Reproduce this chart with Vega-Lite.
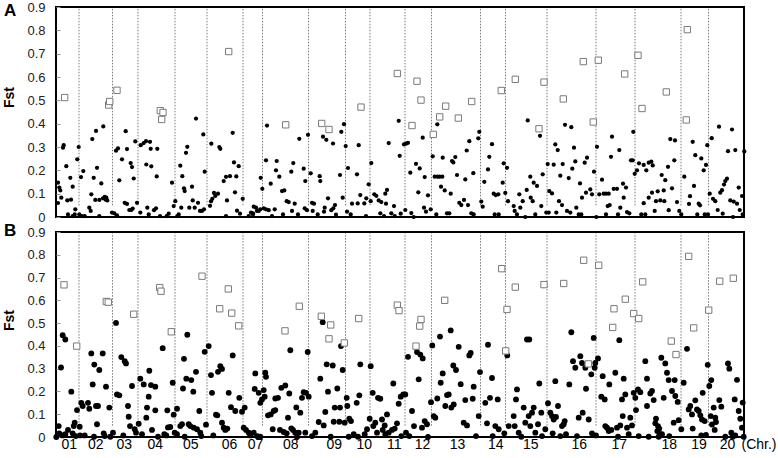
{
"$schema":"https://vega.github.io/schema/vega-lite/v6.json",
"background":"white",
"padding":{"left":1,"top":0,"right":0,"bottom":0},
"bounds":"flush",
"spacing":15,
"config":{"font":"Liberation Sans","view":{"stroke":"black","strokeWidth":2},"axis":{"grid":false}},
"datasets":{
"bounds":[{"x":77},{"x":110.5},{"x":136},{"x":173},{"x":205},{"x":241},{"x":260.5},{"x":306.5},{"x":343.5},{"x":368},{"x":403},{"x":429.5},{"x":478.5},{"x":503.5},{"x":545},{"x":594},{"x":633},{"x":679},{"x":706.5}],
"A_snp":[{"x":56,"y":0.147},{"x":57.3,"y":0.126},{"x":58.3,"y":0.114},{"x":56,"y":0.06},{"x":59.3,"y":0.083},{"x":61.7,"y":0.308},{"x":61,"y":0.297},{"x":64.3,"y":0.218},{"x":66,"y":0.011},{"x":70.7,"y":0.004},{"x":68.3,"y":0.168},{"x":65.3,"y":0.071},{"x":69,"y":0.074},{"x":70.7,"y":0.13},{"x":73.3,"y":0.033},{"x":72.7,"y":0.011},{"x":75.3,"y":0.247},{"x":76.7,"y":0.3},{"x":79,"y":0.171},{"x":81.3,"y":0.197},{"x":77.3,"y":0.011},{"x":80,"y":0.004},{"x":82.7,"y":0.004},{"x":87.3,"y":0.04},{"x":88.7,"y":0.026},{"x":89.3,"y":0.097},{"x":90.3,"y":0.334},{"x":91.7,"y":0.168},{"x":94,"y":0.369},{"x":95,"y":0.211},{"x":93.3,"y":0.073},{"x":97.3,"y":0.073},{"x":99.3,"y":0.144},{"x":101.3,"y":0.388},{"x":101,"y":0.08},{"x":102.7,"y":0.086},{"x":103.7,"y":0.074},{"x":105.3,"y":0.071},{"x":104.3,"y":0.083},{"x":97.3,"y":0.004},{"x":110,"y":0.019},{"x":112.3,"y":0.016},{"x":115,"y":0.007},{"x":114,"y":0.284},{"x":116,"y":0.294},{"x":117.3,"y":0.157},{"x":120,"y":0.247},{"x":123.7,"y":0.368},{"x":125,"y":0.291},{"x":128.7,"y":0.231},{"x":130,"y":0.214},{"x":131.7,"y":0.165},{"x":133.3,"y":0.324},{"x":122.7,"y":0.061},{"x":125,"y":0.056},{"x":127.3,"y":0.03},{"x":129.3,"y":0.03},{"x":130.7,"y":0.036},{"x":135,"y":0.061},{"x":138.7,"y":0.308},{"x":141.7,"y":0.317},{"x":144,"y":0.325},{"x":148,"y":0.322},{"x":148.7,"y":0.292},{"x":144.3,"y":0.225},{"x":149.3,"y":0.217},{"x":155.3,"y":0.292},{"x":154.7,"y":0.174},{"x":145.3,"y":0.04},{"x":152,"y":0.029},{"x":154,"y":0.037},{"x":138.3,"y":0.019},{"x":146.7,"y":0.011},{"x":158,"y":0.004},{"x":164.7,"y":0.004},{"x":166.7,"y":0.014},{"x":170,"y":0.147},{"x":171.7,"y":0.047},{"x":173.3,"y":0.068},{"x":175.3,"y":0.004},{"x":176.7,"y":0.011},{"x":178.3,"y":0.22},{"x":179.3,"y":0.04},{"x":180.3,"y":0.175},{"x":182,"y":0.123},{"x":182.7,"y":0.111},{"x":184,"y":0.275},{"x":185.3,"y":0.301},{"x":187.3,"y":0.04},{"x":190,"y":0.13},{"x":190.7,"y":0.071},{"x":192.7,"y":0.04},{"x":194,"y":0.422},{"x":196,"y":0.061},{"x":198,"y":0.026},{"x":200,"y":0.026},{"x":202,"y":0.033},{"x":201.3,"y":0.354},{"x":202.7,"y":0.194},{"x":208,"y":0.048},{"x":209,"y":0.067},{"x":210.3,"y":0.078},{"x":212,"y":0.103},{"x":213.3,"y":0.09},{"x":209.3,"y":0.314},{"x":217.3,"y":0.3},{"x":218.3,"y":0.292},{"x":216,"y":0.1},{"x":221.7,"y":0.154},{"x":224,"y":0.172},{"x":225,"y":0.071},{"x":224,"y":0.004},{"x":228,"y":0.175},{"x":230.7,"y":0.361},{"x":232,"y":0.234},{"x":233,"y":0.106},{"x":234.3,"y":0.174},{"x":235,"y":0.027},{"x":236.7,"y":0.218},{"x":238,"y":0.014},{"x":240.7,"y":0.078},{"x":246.7,"y":0.004},{"x":249,"y":0.019},{"x":251,"y":0.016},{"x":255,"y":0.026},{"x":258.3,"y":0.033},{"x":258.7,"y":0.168},
{"x":251.7,"y":0.044},{"x":254,"y":0.04},{"x":256.7,"y":0.026},{"x":251,"y":0.011},{"x":260.3,"y":0.121},{"x":261.7,"y":0.037},{"x":264,"y":0.033},{"x":266.7,"y":0.029},{"x":265,"y":0.392},{"x":264,"y":0.243},{"x":268.7,"y":0.143},{"x":270,"y":0.004},{"x":272.7,"y":0.033},{"x":274,"y":0.2},{"x":274.7,"y":0.24},{"x":277.3,"y":0.173},{"x":280,"y":0.111},{"x":282.3,"y":0.114},{"x":281,"y":0.011},{"x":284.7,"y":0.068},{"x":286.7,"y":0.064},{"x":289.3,"y":0.194},{"x":291.3,"y":0.231},{"x":290,"y":0.026},{"x":292.7,"y":0.057},{"x":296,"y":0.011},{"x":297.3,"y":0.335},{"x":301.7,"y":0.207},{"x":303.3,"y":0.154},{"x":302.7,"y":0.037},{"x":305,"y":0.029},{"x":306,"y":0.352},{"x":308.7,"y":0.187},{"x":310,"y":0.061},{"x":312,"y":0.057},{"x":310.7,"y":0.026},{"x":315.7,"y":0.011},{"x":317.7,"y":0.175},{"x":318.3,"y":0.154},{"x":321,"y":0.344},{"x":322.7,"y":0.04},{"x":322,"y":0.023},{"x":324.3,"y":0.331},{"x":326,"y":0.08},{"x":329.3,"y":0.029},{"x":331.3,"y":0.037},{"x":331,"y":0.315},{"x":333,"y":0.051},{"x":334,"y":0.01},{"x":338,"y":0.18},{"x":339.3,"y":0.365},{"x":340.7,"y":0.083},{"x":342,"y":0.398},{"x":343.7,"y":0.304},{"x":345,"y":0.023},{"x":346,"y":0.21},{"x":348.7,"y":0.011},{"x":350,"y":0.057},{"x":355,"y":0.183},{"x":355.7,"y":0.058},{"x":356.7,"y":0.308},{"x":358.3,"y":0.094},{"x":362.3,"y":0.058},{"x":364.3,"y":0.08},{"x":364,"y":0.004},{"x":366.7,"y":0.14},{"x":368.7,"y":0.068},{"x":369.3,"y":0.231},{"x":372.3,"y":0.097},{"x":374.3,"y":0.091},{"x":376.7,"y":0.071},{"x":379.3,"y":0.064},{"x":378.3,"y":0.016},{"x":382,"y":0.004},{"x":383.3,"y":0.1},{"x":385,"y":0.116},{"x":384,"y":0.057},{"x":386.7,"y":0.317},{"x":389.3,"y":0.016},{"x":392.7,"y":0.004},{"x":392,"y":0.047},{"x":396.7,"y":0.412},{"x":397.7,"y":0.262},{"x":398.7,"y":0.014},{"x":402,"y":0.311},{"x":404,"y":0.314},{"x":406,"y":0.318},{"x":403.3,"y":0.03},{"x":408.3,"y":0.19},{"x":409.3,"y":0.017},{"x":411.7,"y":0.0},{"x":414,"y":0.228},{"x":416.3,"y":0.106},{"x":417.7,"y":0.208},{"x":420.7,"y":0.34},{"x":422,"y":0.04},{"x":422.7,"y":0.171},{"x":424,"y":0.023},{"x":426,"y":0.093},{"x":428.7,"y":0.033},{"x":430.7,"y":0.26},{"x":432.7,"y":0.173},{"x":434.3,"y":0.011},{"x":435.3,"y":0.397},{"x":435.7,"y":0.173},{"x":437.7,"y":0.173},{"x":439,"y":0.13},{"x":440.7,"y":0.254},{"x":440.3,"y":0.173},{"x":442.7,"y":0.114},{"x":445,"y":0.016},{"x":447.3,"y":0.016},{"x":448.7,"y":0.1},{"x":450,"y":0.24},{"x":451.3,"y":0.234},{"x":453.3,"y":0.257},{"x":455,"y":0.18},{"x":457.3,"y":0.061},{"x":459.3,"y":0.051},{"x":462,"y":0.073},{"x":463.3,"y":0.161},{"x":464.7,"y":0.285},{"x":466,"y":0.051},{"x":467.3,"y":0.325},{"x":469.3,"y":0.016},{"x":471.7,"y":0.011},{"x":471.3,"y":0.188},{"x":476.3,"y":0.337},{"x":477.3,"y":0.365},{"x":479.3,"y":0.066},{"x":480.7,"y":0.044},{"x":482.3,"y":0.151},{"x":486,"y":0.204},{"x":487.3,"y":0.258},{"x":490,"y":0.312},{"x":491.7,"y":0.1},{"x":493.7,"y":0.094},{"x":496.3,"y":0.097},{"x":492.7,"y":0.011},{"x":496.7,"y":0.011},{"x":501.7,"y":0.23},{"x":500.7,"y":0.147},{"x":503.3,"y":0.103},{"x":505,"y":0.211},{"x":506,"y":0.068},
{"x":511.7,"y":0.047},{"x":512.7,"y":0.026},{"x":515,"y":0.011},{"x":518.3,"y":0.04},{"x":517.3,"y":0.097},{"x":520.7,"y":0.068},{"x":523.3,"y":0.0},{"x":524.7,"y":0.116},{"x":525.7,"y":0.414},{"x":528.3,"y":0.173},{"x":528.7,"y":0.083},{"x":530.7,"y":0.068},{"x":531.7,"y":0.147},{"x":535,"y":0.133},{"x":533.3,"y":0.011},{"x":538,"y":0.348},{"x":539.3,"y":0.047},{"x":540.7,"y":0.183},{"x":544.3,"y":0.019},{"x":546.7,"y":0.019},{"x":545.7,"y":0.227},{"x":547.3,"y":0.111},{"x":550,"y":0.101},{"x":551.7,"y":0.224},{"x":553.3,"y":0.311},{"x":555.7,"y":0.287},{"x":554.3,"y":0.019},{"x":557,"y":0.068},{"x":558.3,"y":0.177},{"x":560,"y":0.051},{"x":560.7,"y":0.227},{"x":563,"y":0.395},{"x":565,"y":0.026},{"x":568.3,"y":0.019},{"x":566.7,"y":0.167},{"x":569.3,"y":0.385},{"x":570.3,"y":0.207},{"x":572,"y":0.297},{"x":573.3,"y":0.238},{"x":574.3,"y":0.04},{"x":576.7,"y":0.011},{"x":579.3,"y":0.011},{"x":578,"y":0.144},{"x":580,"y":0.083},{"x":582.7,"y":0.233},{"x":585,"y":0.254},{"x":584,"y":0.104},{"x":588.3,"y":0.118},{"x":590,"y":0.097},{"x":592,"y":0.194},{"x":595,"y":0.301},{"x":594.3,"y":0.0},{"x":597.3,"y":0.097},{"x":600,"y":0.16},{"x":601.7,"y":0.1},{"x":604,"y":0.1},{"x":606.7,"y":0.1},{"x":604,"y":0.011},{"x":605.7,"y":0.047},{"x":607.7,"y":0.051},{"x":609,"y":0.258},{"x":610,"y":0.344},{"x":611.7,"y":0.121},{"x":615,"y":0.121},{"x":616,"y":0.011},{"x":617.3,"y":0.287},{"x":618.3,"y":0.04},{"x":621,"y":0.143},{"x":621.7,"y":0.083},{"x":624,"y":0.126},{"x":625,"y":0.021},{"x":627.3,"y":0.016},{"x":629,"y":0.243},{"x":630.7,"y":0.243},{"x":631.3,"y":0.365},{"x":632.7,"y":0.185},{"x":635,"y":0.2},{"x":637,"y":0.23},{"x":639.3,"y":0.011},{"x":641.7,"y":0.223},{"x":641.7,"y":0.059},{"x":643.3,"y":0.011},{"x":644.3,"y":0.2},{"x":646.7,"y":0.233},{"x":649.3,"y":0.237},{"x":650.7,"y":0.221},{"x":646.7,"y":0.083},{"x":650,"y":0.104},{"x":652.7,"y":0.026},{"x":654,"y":0.068},{"x":655.7,"y":0.11},{"x":658.3,"y":0.071},{"x":659.7,"y":0.18},{"x":661.7,"y":0.114},{"x":663.3,"y":0.158},{"x":662.3,"y":0.068},{"x":666,"y":0.215},{"x":666.7,"y":0.029},{"x":668.3,"y":0.334},{"x":673,"y":0.328},{"x":672.3,"y":0.243},{"x":670,"y":0.123},{"x":675,"y":0.064},{"x":677.3,"y":0.026},{"x":679.3,"y":0.011},{"x":682.3,"y":0.173},{"x":687,"y":0.056},{"x":688,"y":0.089},{"x":690.7,"y":0.322},{"x":692,"y":0.133},{"x":693.3,"y":0.265},{"x":695.3,"y":0.011},{"x":696.7,"y":0.057},{"x":698,"y":0.05},{"x":699.3,"y":0.251},{"x":701.7,"y":0.2},{"x":702.7,"y":0.011},{"x":704,"y":0.223},{"x":705.3,"y":0.308},{"x":706,"y":0.011},{"x":707.7,"y":0.1},{"x":709.7,"y":0.338},{"x":711,"y":0.078},{"x":713.3,"y":0.068},{"x":715.7,"y":0.03},{"x":717,"y":0.387},{"x":718.3,"y":0.104},{"x":720,"y":0.115},{"x":722,"y":0.139},{"x":723.3,"y":0.154},{"x":725,"y":0.164},{"x":720.7,"y":0.014},{"x":726,"y":0.282},{"x":728.3,"y":0.071},{"x":730,"y":0.375},{"x":731.7,"y":0.066},{"x":735,"y":0.057},{"x":733.3,"y":0.287},{"x":736.7,"y":0.126},{"x":737.7,"y":0.03},{"x":740,"y":0.09},{"x":740.7,"y":0.011},{"x":742.3,"y":0.281},{"x":731,"y":0.0}],
"A_out":[{"x":62.7,"y":0.512},{"x":106.7,"y":0.48},{"x":107.7,"y":0.495},{"x":115,"y":0.543},{"x":158.3,"y":0.456},{"x":161,"y":0.448},{"x":159.7,"y":0.418},{"x":226.7,"y":0.709},{"x":283.7,"y":0.395},{"x":319.7,"y":0.401},{"x":327,"y":0.375},{"x":359,"y":0.471},{"x":395.3,"y":0.615},{"x":415,"y":0.582},{"x":419,"y":0.501},{"x":410,"y":0.392},{"x":431.3,"y":0.354},{"x":437.7,"y":0.429},{"x":443.7,"y":0.475},{"x":456.3,"y":0.424},{"x":469.7,"y":0.495},{"x":499.3,"y":0.542},{"x":513.3,"y":0.59},{"x":542,"y":0.578},{"x":537,"y":0.378},{"x":561.3,"y":0.506},{"x":581.3,"y":0.666},{"x":596.3,"y":0.672},{"x":591.3,"y":0.407},{"x":622.7,"y":0.613},{"x":636,"y":0.693},{"x":640,"y":0.465},{"x":664.3,"y":0.536},{"x":685.3,"y":0.803},{"x":684.3,"y":0.416}],
"B_snp":[{"x":54.3,"y":0.0},{"x":56.7,"y":0.048},{"x":57.3,"y":0.016},{"x":59,"y":0.305},{"x":60.7,"y":0.447},{"x":63.3,"y":0.428},{"x":60.7,"y":0.007},{"x":63.3,"y":0.012},{"x":66,"y":0.031},{"x":69.3,"y":0.199},{"x":70.7,"y":0.016},{"x":71.7,"y":0.048},{"x":72.7,"y":0.063},{"x":73.7,"y":0.004},{"x":75,"y":0.118},{"x":77.7,"y":0.045},{"x":79.3,"y":0.15},{"x":80.7,"y":0.136},{"x":78,"y":0.007},{"x":82.7,"y":0.007},{"x":86,"y":0.15},{"x":87.3,"y":0.124},{"x":89.3,"y":0.367},{"x":90.7,"y":0.231},{"x":92.3,"y":0.318},{"x":94,"y":0.136},{"x":95,"y":0.056},{"x":92,"y":0.001},{"x":97.3,"y":0.294},{"x":96,"y":0.136},{"x":100.7,"y":0.367},{"x":101.7,"y":0.016},{"x":102.7,"y":0.004},{"x":104,"y":0.221},{"x":107.3,"y":0.129},{"x":108.3,"y":0.001},{"x":111,"y":0.019},{"x":114,"y":0.501},{"x":115,"y":0.187},{"x":117.3,"y":0.183},{"x":119.3,"y":0.351},{"x":121.3,"y":0.007},{"x":122.7,"y":0.333},{"x":124,"y":0.323},{"x":126,"y":0.136},{"x":126.7,"y":0.089},{"x":128,"y":0.048},{"x":130,"y":0.224},{"x":132.7,"y":0.034},{"x":134,"y":0.019},{"x":136.7,"y":0.058},{"x":138.3,"y":0.256},{"x":140,"y":0.012},{"x":141.7,"y":0.231},{"x":144.3,"y":0.085},{"x":145,"y":0.129},{"x":146.7,"y":0.177},{"x":147.3,"y":0.291},{"x":149,"y":0.228},{"x":150,"y":0.031},{"x":153.3,"y":0.221},{"x":153.3,"y":0.117},{"x":156,"y":0.001},{"x":160.7,"y":0.39},{"x":162.3,"y":0.012},{"x":164.3,"y":0.007},{"x":165.3,"y":0.117},{"x":166,"y":0.042},{"x":168.3,"y":0.044},{"x":170.7,"y":0.238},{"x":171.7,"y":0.098},{"x":175,"y":0.124},{"x":172.7,"y":0.019},{"x":175,"y":0.012},{"x":178.3,"y":0.048},{"x":180,"y":0.056},{"x":181,"y":0.213},{"x":182,"y":0.343},{"x":182.7,"y":0.001},{"x":184.3,"y":0.256},{"x":185.3,"y":0.449},{"x":186.7,"y":0.056},{"x":188.3,"y":0.048},{"x":189.3,"y":0.25},{"x":191.3,"y":0.199},{"x":191.7,"y":0.041},{"x":194,"y":0.286},{"x":195,"y":0.034},{"x":197.3,"y":0.114},{"x":198.3,"y":0.019},{"x":199.3,"y":0.004},{"x":202.7,"y":0.374},{"x":204,"y":0.054},{"x":206.7,"y":0.399},{"x":209,"y":0.272},{"x":210,"y":0.194},{"x":211.3,"y":0.007},{"x":214,"y":0.098},{"x":215.3,"y":0.095},{"x":216,"y":0.286},{"x":218.3,"y":0.311},{"x":220,"y":0.299},{"x":220,"y":0.063},{"x":221.7,"y":0.041},{"x":223.3,"y":0.031},{"x":225.3,"y":0.037},{"x":226.7,"y":0.194},{"x":229,"y":0.131},{"x":230.7,"y":0.358},{"x":233.3,"y":0.114},{"x":237.3,"y":0.172},{"x":240,"y":0.111},{"x":242.7,"y":0.129},{"x":241.7,"y":0.041},{"x":244,"y":0.031},{"x":246.7,"y":0.019},{"x":248.3,"y":0.007},{"x":253.3,"y":0.279},{"x":252.7,"y":0.211},{"x":256.7,"y":0.194},{"x":258.3,"y":0.15},{"x":256.7,"y":0.001},
{"x":251.7,"y":0.019},{"x":255,"y":0.004},{"x":258.3,"y":0.001},{"x":263.3,"y":0.282},{"x":264,"y":0.264},{"x":261.7,"y":0.206},{"x":260,"y":0.165},{"x":262.7,"y":0.177},{"x":266,"y":0.095},{"x":268.7,"y":0.099},{"x":271.7,"y":0.114},{"x":273.3,"y":0.118},{"x":270.7,"y":0.034},{"x":273.3,"y":0.169},{"x":276,"y":0.172},{"x":278,"y":0.031},{"x":279.3,"y":0.216},{"x":281.7,"y":0.022},{"x":283.3,"y":0.226},{"x":284.7,"y":0.016},{"x":286,"y":0.085},{"x":287.3,"y":0.191},{"x":288.3,"y":0.381},{"x":289.3,"y":0.038},{"x":291,"y":0.031},{"x":293.3,"y":0.019},{"x":296.7,"y":0.019},{"x":295,"y":0.0},{"x":294.3,"y":0.13},{"x":298.3,"y":0.107},{"x":300,"y":0.172},{"x":301.7,"y":0.197},{"x":304,"y":0.194},{"x":305.7,"y":0.373},{"x":306.7,"y":0.177},{"x":303.3,"y":0.019},{"x":310,"y":0.004},{"x":313.3,"y":0.019},{"x":316.7,"y":0.066},{"x":318.3,"y":0.256},{"x":320.7,"y":0.504},{"x":321.7,"y":0.051},{"x":323.3,"y":0.11},{"x":324.7,"y":0.319},{"x":326,"y":0.199},{"x":328.7,"y":0.001},{"x":330.7,"y":0.314},{"x":331.7,"y":0.067},{"x":332.7,"y":0.129},{"x":335.3,"y":0.213},{"x":338,"y":0.129},{"x":337.3,"y":0.067},{"x":339,"y":0.399},{"x":340.7,"y":0.294},{"x":342.7,"y":0.063},{"x":344.7,"y":0.172},{"x":345.3,"y":0.136},{"x":347.3,"y":0.08},{"x":349,"y":0.07},{"x":346.7,"y":0.001},{"x":351.7,"y":0.012},{"x":354.7,"y":0.15},{"x":357.3,"y":0.183},{"x":358.3,"y":0.319},{"x":356,"y":0.001},{"x":362.7,"y":0.012},{"x":365,"y":0.034},{"x":367.7,"y":0.08},{"x":368.7,"y":0.311},{"x":370.7,"y":0.194},{"x":371.3,"y":0.048},{"x":373.3,"y":0.063},{"x":375,"y":0.019},{"x":376,"y":0.172},{"x":378.3,"y":0.168},{"x":380,"y":0.077},{"x":382.7,"y":0.051},{"x":380.7,"y":0.031},{"x":385,"y":0.099},{"x":383.3,"y":0.012},{"x":386.7,"y":0.019},{"x":390,"y":0.031},{"x":392.7,"y":0.037},{"x":391.3,"y":0.235},{"x":395,"y":0.06},{"x":396.7,"y":0.146},{"x":398.7,"y":0.177},{"x":399.3,"y":0.004},{"x":401.3,"y":0.187},{"x":403.3,"y":0.187},{"x":404,"y":0.019},{"x":406,"y":0.352},{"x":407.3,"y":0.004},{"x":410,"y":0.114},{"x":412,"y":0.048},{"x":415,"y":0.373},{"x":416.7,"y":0.253},{"x":418.3,"y":0.362},{"x":420.7,"y":0.345},{"x":420,"y":0.041},{"x":422.7,"y":0.07},{"x":425,"y":0.056},{"x":426,"y":0.0},{"x":429,"y":0.153},{"x":430.3,"y":0.402},{"x":431.7,"y":0.092},{"x":433.3,"y":0.085},{"x":435.3,"y":0.169},{"x":438,"y":0.441},{"x":438.7,"y":0.238},{"x":440.7,"y":0.279},{"x":443.3,"y":0.136},{"x":445,"y":0.184},{"x":446.7,"y":0.187},{"x":448.7,"y":0.468},{"x":449.3,"y":0.129},{"x":451.3,"y":0.314},{"x":454,"y":0.294},{"x":451.7,"y":0.143},{"x":456.7,"y":0.396},{"x":458.7,"y":0.232},{"x":461.7,"y":0.063},{"x":463.3,"y":0.162},{"x":465,"y":0.051},{"x":467.3,"y":0.358},{"x":468.7,"y":0.369},{"x":470.7,"y":0.168},{"x":471.7,"y":0.221},{"x":474,"y":0.004},{"x":476.7,"y":0.092},{"x":478,"y":0.285},{"x":483.3,"y":0.15},{"x":485,"y":0.06},{"x":486,"y":0.405},{"x":488,"y":0.172},{"x":490,"y":0.259},{"x":490.7,"y":0.004},{"x":493.3,"y":0.048},{"x":495.7,"y":0.165},{"x":496.7,"y":0.034},{"x":502.3,"y":0.016},{"x":505.3,"y":0.358},{"x":506.7,"y":0.048},
{"x":511.7,"y":0.092},{"x":512.7,"y":0.048},{"x":514,"y":0.165},{"x":515,"y":0.209},{"x":516.7,"y":0.019},{"x":519.3,"y":0.001},{"x":521.7,"y":0.129},{"x":523.3,"y":0.063},{"x":525,"y":0.428},{"x":527.3,"y":0.428},{"x":526.7,"y":0.092},{"x":528.3,"y":0.048},{"x":530,"y":0.107},{"x":531.7,"y":0.129},{"x":533.3,"y":0.019},{"x":536,"y":0.056},{"x":537.3,"y":0.235},{"x":539.3,"y":0.107},{"x":540,"y":0.004},{"x":543.3,"y":0.034},{"x":546,"y":0.148},{"x":548.3,"y":0.107},{"x":550,"y":0.092},{"x":551.7,"y":0.077},{"x":554,"y":0.088},{"x":550.7,"y":0.016},{"x":553.3,"y":0.245},{"x":556,"y":0.136},{"x":560,"y":0.048},{"x":561.7,"y":0.056},{"x":562.7,"y":0.07},{"x":558.3,"y":0.004},{"x":564,"y":0.012},{"x":567.3,"y":0.231},{"x":569.3,"y":0.46},{"x":571,"y":0.333},{"x":573.3,"y":0.304},{"x":575,"y":0.004},{"x":578.3,"y":0.355},{"x":580,"y":0.325},{"x":576.7,"y":0.085},{"x":580.7,"y":0.107},{"x":584,"y":0.212},{"x":583.3,"y":0.304},{"x":586.7,"y":0.077},{"x":589.3,"y":0.275},{"x":591.7,"y":0.435},{"x":592.7,"y":0.304},{"x":593.3,"y":0.325},{"x":596,"y":0.345},{"x":590,"y":0.016},{"x":594,"y":0.007},{"x":600.7,"y":0.267},{"x":599.3,"y":0.177},{"x":602.7,"y":0.165},{"x":603.3,"y":0.048},{"x":605,"y":0.041},{"x":607.3,"y":0.231},{"x":606.7,"y":0.026},{"x":609.3,"y":0.031},{"x":613.3,"y":0.282},{"x":615,"y":0.041},{"x":616,"y":0.001},{"x":617.3,"y":0.425},{"x":618.3,"y":0.051},{"x":620,"y":0.165},{"x":621.7,"y":0.256},{"x":620.7,"y":0.092},{"x":623.3,"y":0.187},{"x":625,"y":0.041},{"x":626.7,"y":0.012},{"x":628.3,"y":0.085},{"x":630,"y":0.051},{"x":631.7,"y":0.194},{"x":633.3,"y":0.172},{"x":636,"y":0.209},{"x":638.3,"y":0.197},{"x":634,"y":0.118},{"x":636.7,"y":0.004},{"x":643.3,"y":0.333},{"x":645,"y":0.256},{"x":646.7,"y":0.001},{"x":648.3,"y":0.191},{"x":650,"y":0.202},{"x":651.7,"y":0.162},{"x":645,"y":0.136},{"x":653.3,"y":0.06},{"x":654,"y":0.08},{"x":656,"y":0.048},{"x":657.3,"y":0.037},{"x":655.3,"y":0.026},{"x":658.3,"y":0.012},{"x":660,"y":0.012},{"x":656.7,"y":0.001},{"x":659.3,"y":0.348},{"x":663.3,"y":0.323},{"x":665,"y":0.282},{"x":666.7,"y":0.25},{"x":661.7,"y":0.172},{"x":667.3,"y":0.004},{"x":670,"y":0.202},{"x":672.7,"y":0.25},{"x":673.3,"y":0.18},{"x":671.7,"y":0.063},{"x":675.7,"y":0.154},{"x":676.7,"y":0.074},{"x":679.3,"y":0.034},{"x":681.7,"y":0.238},{"x":685,"y":0.387},{"x":686.7,"y":0.121},{"x":688.3,"y":0.136},{"x":690,"y":0.099},{"x":690.7,"y":0.037},{"x":693.3,"y":0.161},{"x":695,"y":0.121},{"x":696.7,"y":0.114},{"x":698.3,"y":0.095},{"x":700,"y":0.077},{"x":700.7,"y":0.194},{"x":699.3,"y":0.007},{"x":702.7,"y":0.07},{"x":704,"y":0.009},{"x":705.7,"y":0.317},{"x":707.3,"y":0.224},{"x":709.3,"y":0.25},{"x":708.7,"y":0.092},{"x":710,"y":0.055},{"x":711.7,"y":0.129},{"x":713.3,"y":0.085},{"x":714,"y":0.066},{"x":717.3,"y":0.162},{"x":719.3,"y":0.133},{"x":712.7,"y":0.031},{"x":723.3,"y":0.001},{"x":726,"y":0.323},{"x":727.3,"y":0.3},{"x":729.3,"y":0.019},{"x":730.7,"y":0.001},{"x":733.3,"y":0.007},{"x":732.7,"y":0.165},{"x":735,"y":0.251},{"x":736.7,"y":0.114},{"x":738.3,"y":0.08},{"x":740,"y":0.041},{"x":740.7,"y":0.151},{"x":741.7,"y":0.001}],
"B_out":[{"x":62,"y":0.668},{"x":74.7,"y":0.399},{"x":104.3,"y":0.595},{"x":106.3,"y":0.592},{"x":131.7,"y":0.539},{"x":157.7,"y":0.656},{"x":159,"y":0.64},{"x":169.3,"y":0.462},{"x":200,"y":0.706},{"x":217.7,"y":0.563},{"x":226.3,"y":0.65},{"x":229.7,"y":0.544},{"x":236.7,"y":0.488},{"x":283,"y":0.466},{"x":297.3,"y":0.574},{"x":319.3,"y":0.53},{"x":328.7,"y":0.492},{"x":327,"y":0.431},{"x":342.3,"y":0.413},{"x":356.7,"y":0.52},{"x":395.3,"y":0.579},{"x":397,"y":0.555},{"x":419,"y":0.516},{"x":417.7,"y":0.487},{"x":414,"y":0.399},{"x":442.7,"y":0.6},{"x":499.7,"y":0.739},{"x":505,"y":0.56},{"x":503.7,"y":0.378},{"x":513.3,"y":0.658},{"x":542,"y":0.669},{"x":561.7,"y":0.674},{"x":581.7,"y":0.776},{"x":596.7,"y":0.754},{"x":586.3,"y":0.321},{"x":612,"y":0.563},{"x":623.3,"y":0.605},{"x":610.7,"y":0.481},{"x":631.7,"y":0.542},{"x":636.7,"y":0.52},{"x":640.7,"y":0.681},{"x":669.3,"y":0.421},{"x":674,"y":0.362},{"x":686.7,"y":0.793},{"x":691.7,"y":0.479},{"x":706.7,"y":0.557},{"x":717.7,"y":0.684},{"x":731.3,"y":0.697}]
},
"vconcat":[
{
"width":688,"height":210,
"title":{"text":"A","anchor":"start","frame":"group","fontSize":17,"fontWeight":"bold","color":"black","dx":-52,"dy":19,"offset":0,"baseline":"top"},
"encoding":{"x":{"field":"x","type":"quantitative","scale":{"domain":[54,742],"nice":false,"zero":false},"axis":null}},
"layer":[
{"data":{"name":"bounds"},"mark":{"type":"rule","color":"#7a7a7a","strokeWidth":1,"strokeDash":[1.5,1.5]},
 "encoding":{"y":{"datum":0.05,"type":"quantitative","scale":{"domain":[0,0.9],"nice":false},"axis":{"title":"Fst","values":[0,0.1,0.2,0.3,0.4,0.5,0.6,0.7,0.8,0.9],"labelExpr":"datum.value == 0 ? '0' : format(datum.value, '.1f')","domain":false,"tickSize":-4,"tickColor":"#999","labelFontSize":13,"labelColor":"#222","labelPadding":15,"titleFontSize":14,"titleFontWeight":"bold","titleColor":"black","titlePadding":10,"titleY":90}},"y2":{"datum":0.895}}},
{"data":{"name":"A_snp"},"mark":{"type":"circle","size":18,"color":"black","opacity":1},
 "encoding":{"y":{"field":"y","type":"quantitative","scale":{"domain":[0,0.9],"nice":false},"axis":{"title":"Fst","values":[0,0.1,0.2,0.3,0.4,0.5,0.6,0.7,0.8,0.9],"labelExpr":"datum.value == 0 ? '0' : format(datum.value, '.1f')","domain":false,"tickSize":-4,"tickColor":"#999","labelFontSize":13,"labelColor":"#222","labelPadding":15,"titleFontSize":14,"titleFontWeight":"bold","titleColor":"black","titlePadding":10,"titleY":90}}}},
{"data":{"name":"A_out"},"mark":{"type":"square","size":40,"fill":"white","stroke":"#7a7a7a","strokeWidth":1,"opacity":1},
 "encoding":{"y":{"field":"y","type":"quantitative","scale":{"domain":[0,0.9],"nice":false},"axis":{"title":"Fst","values":[0,0.1,0.2,0.3,0.4,0.5,0.6,0.7,0.8,0.9],"labelExpr":"datum.value == 0 ? '0' : format(datum.value, '.1f')","domain":false,"tickSize":-4,"tickColor":"#999","labelFontSize":13,"labelColor":"#222","labelPadding":15,"titleFontSize":14,"titleFontWeight":"bold","titleColor":"black","titlePadding":10,"titleY":90}}}}
]
},
{
"width":688,"height":205,
"title":{"text":"B","anchor":"start","frame":"group","fontSize":17,"fontWeight":"bold","color":"black","dx":-52,"dy":14,"offset":0,"baseline":"top"},
"encoding":{"x":{"field":"x","type":"quantitative","scale":{"domain":[54,742],"nice":false,"zero":false},"axis":{"title":"(Chr.)","values":[66.7,93.3,121.7,152.7,188.3,227,253,288.3,331.7,361.7,391.7,420,455,493.3,528.3,576.7,616.7,666.7,696.5,725],"labelExpr":"['01','02','03','04','05','06','07','08','09','10','11','12','13','14','15','16','17','18','19','20'][indexof([66.7,93.3,121.7,152.7,188.3,227,253,288.3,331.7,361.7,391.7,420,455,493.3,528.3,576.7,616.7,666.7,696.5,725], datum.value)]","ticks":false,"domain":false,"labelOverlap":false,"labelFlush":false,"labelFontSize":14,"labelColor":"black","labelPadding":0,"titleFontSize":14,"titleFontWeight":"normal","titleColor":"black","titleAngle":0,"titleAlign":"left","titleBaseline":"top","titleX":685,"titleY":0}}},
"layer":[
{"data":{"name":"bounds"},"mark":{"type":"rule","color":"#7a7a7a","strokeWidth":1,"strokeDash":[1.5,1.5]},
 "encoding":{"y":{"datum":0.05,"type":"quantitative","scale":{"domain":[0,0.9],"nice":false},"axis":{"title":"Fst","values":[0,0.1,0.2,0.3,0.4,0.5,0.6,0.7,0.8,0.9],"labelExpr":"datum.value == 0 ? '0' : format(datum.value, '.1f')","domain":false,"tickSize":-4,"tickColor":"#999","labelFontSize":13,"labelColor":"#222","labelPadding":15,"titleFontSize":14,"titleFontWeight":"bold","titleColor":"black","titlePadding":10,"titleY":88}},"y2":{"datum":0.895}}},
{"data":{"name":"B_snp"},"mark":{"type":"circle","size":34,"color":"black","opacity":1},
 "encoding":{"y":{"field":"y","type":"quantitative","scale":{"domain":[0,0.9],"nice":false},"axis":{"title":"Fst","values":[0,0.1,0.2,0.3,0.4,0.5,0.6,0.7,0.8,0.9],"labelExpr":"datum.value == 0 ? '0' : format(datum.value, '.1f')","domain":false,"tickSize":-4,"tickColor":"#999","labelFontSize":13,"labelColor":"#222","labelPadding":15,"titleFontSize":14,"titleFontWeight":"bold","titleColor":"black","titlePadding":10,"titleY":88}}}},
{"data":{"name":"B_out"},"mark":{"type":"square","size":40,"fill":"white","stroke":"#7a7a7a","strokeWidth":1,"opacity":1},
 "encoding":{"y":{"field":"y","type":"quantitative","scale":{"domain":[0,0.9],"nice":false},"axis":{"title":"Fst","values":[0,0.1,0.2,0.3,0.4,0.5,0.6,0.7,0.8,0.9],"labelExpr":"datum.value == 0 ? '0' : format(datum.value, '.1f')","domain":false,"tickSize":-4,"tickColor":"#999","labelFontSize":13,"labelColor":"#222","labelPadding":15,"titleFontSize":14,"titleFontWeight":"bold","titleColor":"black","titlePadding":10,"titleY":88}}}}
]
}
]
}
